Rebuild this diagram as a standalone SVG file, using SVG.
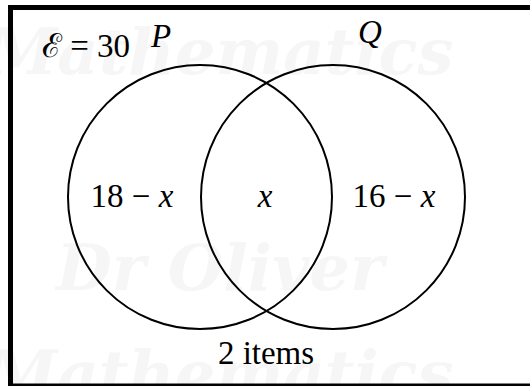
<svg xmlns="http://www.w3.org/2000/svg" width="530" height="386" viewBox="0 0 530 386">
<style>
.t{font-family:"Liberation Serif","DejaVu Serif",serif;font-size:33px;fill:#000;text-anchor:middle}
.i{font-style:italic}
.wm{font-family:"DejaVu Serif",serif;font-style:italic;font-weight:bold;font-size:64px;fill:#f6f6f6;text-anchor:middle}
.c{fill:none;stroke:#000;stroke-width:2}
</style>
<rect width="530" height="386" fill="#fff"/>
<g id="watermark">
<text class="wm" x="220" y="74">Mathematics</text>
<text class="wm" x="220" y="290">Dr Oliver</text>
<text class="wm" x="220" y="396">Mathematics</text>
</g>
<g id="universe">
<rect x="10.5" y="7.5" width="540" height="378.5" fill="none" stroke="#000" stroke-width="5"/>
<text class="t" x="86" y="57">ℰ = 30</text>
</g>
<g id="connectors"></g>
<g id="setP">
<circle class="c" cx="200" cy="197" r="132"/>
<text class="t i" x="161" y="47">P</text>
</g>
<g id="setQ">
<circle class="c" cx="333" cy="197" r="132"/>
<text class="t i" x="370" y="43">Q</text>
</g>
<g id="regions">
<text class="t" x="132" y="207">18 − <tspan class="i">x</tspan></text>
<text class="t i" x="265" y="207">x</text>
<text class="t" x="394" y="207">16 − <tspan class="i">x</tspan></text>
<text class="t" x="266" y="364">2 items</text>
</g>
</svg>
